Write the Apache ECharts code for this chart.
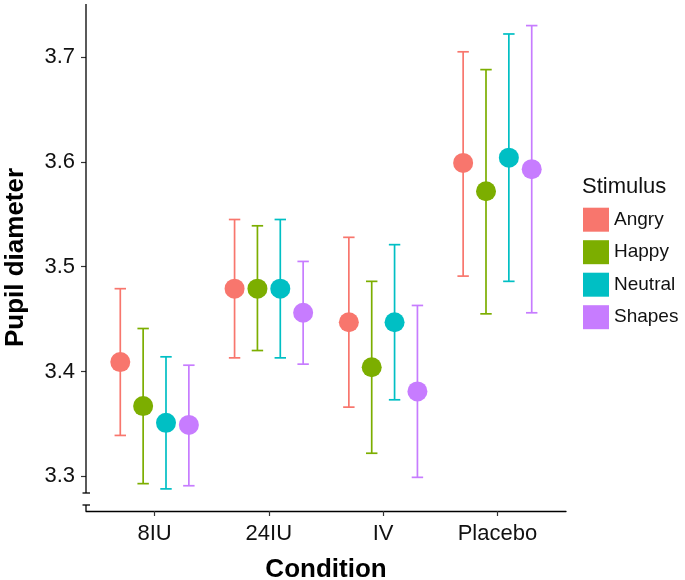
<!DOCTYPE html>
<html>
<head>
<meta charset="utf-8">
<script src="https://cdn.jsdelivr.net/npm/echarts@6/dist/echarts.min.js"></script>
<style>html,body{margin:0;padding:0;background:#fff}#main{width:685px;height:580px}</style>
</head>
<body>
<div id="main"></div>
<script>
const categories = ['8IU', '24IU', 'IV', 'Placebo'];
const stimuli = ['Angry', 'Happy', 'Neutral', 'Shapes'];
const yTicks = [3.3, 3.4, 3.5, 3.6, 3.7];

const angryMean  = [3.409, 3.479, 3.447, 3.599];
const angryLow   = [3.339, 3.413, 3.366, 3.491];
const angryHigh  = [3.479, 3.545, 3.528, 3.705];
const happyMean  = [3.367, 3.479, 3.404, 3.572];
const happyLow   = [3.293, 3.420, 3.322, 3.455];
const happyHigh  = [3.441, 3.539, 3.486, 3.688];
const neutralMean = [3.351, 3.479, 3.447, 3.604];
const neutralLow  = [3.288, 3.413, 3.373, 3.486];
const neutralHigh = [3.414, 3.545, 3.521, 3.722];
const shapesMean = [3.349, 3.456, 3.381, 3.593];
const shapesLow  = [3.291, 3.407, 3.299, 3.456];
const shapesHigh = [3.406, 3.505, 3.463, 3.730];

const means = [angryMean, happyMean, neutralMean, shapesMean];
const lows = [angryLow, happyLow, neutralLow, shapesLow];
const highs = [angryHigh, happyHigh, neutralHigh, shapesHigh];
const colors = ['#F8766D', '#7CAE00', '#00BFC4', '#C77CFF'];

const FONT = "'Liberation Sans', Arial, Helvetica, sans-serif";
const GRID = {left: 86, right: 119, top: 4, bottom: 69, containLabel: false, outerBoundsMode: 'none'};
const dodge = 0.2;

const chart = echarts.init(document.getElementById('main'));
const series = [];
stimuli.forEach((s, i) => {
  const off = (i - 1.5) * dodge;
  series.push({
    type: 'custom', name: s, z: 2, silent: true,
    data: categories.map((c, j) => [j + 1 + off, lows[i][j], highs[i][j]]),
    encode: {x: 0, y: [1, 2]},
    renderItem: function (params, api) {
      const x = api.value(0);
      const lo = api.coord([x, api.value(1)]);
      const hi = api.coord([x, api.value(2)]);
      const hw = api.size([0.1, 0])[0] / 2;
      const st = {stroke: colors[i], lineWidth: 1.7};
      return {type: 'group', children: [
        {type: 'line', shape: {x1: lo[0], y1: lo[1], x2: hi[0], y2: hi[1]}, style: st},
        {type: 'line', shape: {x1: lo[0] - hw, y1: lo[1], x2: lo[0] + hw, y2: lo[1]}, style: st},
        {type: 'line', shape: {x1: hi[0] - hw, y1: hi[1], x2: hi[0] + hw, y2: hi[1]}, style: st}
      ]};
    }
  });
});
stimuli.forEach((s, i) => {
  const off = (i - 1.5) * dodge;
  series.push({
    type: 'scatter', name: s, z: 3, symbol: 'circle', symbolSize: 20,
    itemStyle: {color: colors[i], opacity: 1},
    data: categories.map((c, j) => [j + 1 + off, means[i][j]])
  });
});

chart.setOption({
  animation: false,
  backgroundColor: '#fff',
  color: colors,
  grid: GRID,
  xAxis: {
    type: 'value', min: 0.4, max: 4.6,
    name: 'Condition', nameLocation: 'middle', nameGap: 46,
    nameTextStyle: {fontFamily: FONT, fontSize: 26, fontWeight: 'bold', color: '#000'},
    splitLine: {show: false},
    axisLine: {show: true, lineStyle: {color: '#000', width: 1.3}},
    axisTick: {show: true, length: 5, customValues: [1, 2, 3, 4], lineStyle: {color: '#333', width: 1.2}},
    axisLabel: {customValues: [1, 2, 3, 4], margin: 12, fontFamily: FONT, fontSize: 22, color: '#111',
      formatter: v => categories[Math.round(v) - 1]}
  },
  yAxis: {
    type: 'value', min: 3.2669, max: 3.7506,
    name: 'Pupil diameter', nameLocation: 'middle', nameGap: 57,
    nameTextStyle: {fontFamily: FONT, fontSize: 26, fontWeight: 'bold', color: '#000'},
    splitLine: {show: false},
    axisLine: {show: false},
    axisTick: {show: true, length: 5, customValues: yTicks, lineStyle: {color: '#333', width: 1.2}},
    axisLabel: {customValues: yTicks, margin: 11, fontFamily: FONT, fontSize: 22, color: '#111',
      formatter: v => v.toFixed(1)}
  },
  legend: {
    orient: 'vertical', left: 583, top: 207.7, padding: 0,
    itemWidth: 26, itemHeight: 24, itemGap: 8.5,
    textStyle: {fontFamily: FONT, fontSize: 19, color: '#111'},
    selectedMode: false,
    data: stimuli.map((s, i) => ({name: s, icon: 'rect', itemStyle: {color: colors[i]}}))
  },
  series: series
});

const ax = GRID.left;
const yTop = GRID.top;
const yBot = 580 - GRID.bottom;
const lineStyle = {stroke: '#000', lineWidth: 1.3};
chart.setOption({
  graphic: [
    {type: 'line', shape: {x1: ax, y1: yTop, x2: ax, y2: yBot - 18}, style: lineStyle, z: 10},
    {type: 'line', shape: {x1: ax - 3.5, y1: yBot - 18, x2: ax + 4, y2: yBot - 18}, style: lineStyle, z: 10},
    {type: 'line', shape: {x1: ax - 3.5, y1: yBot - 6, x2: ax + 4, y2: yBot - 6}, style: lineStyle, z: 10},
    {type: 'line', shape: {x1: ax, y1: yBot - 6, x2: ax, y2: yBot}, style: lineStyle, z: 10},
    {type: 'text', left: 582, top: 176, style: {text: 'Stimulus', font: "22px " + FONT, fill: '#111'}}
  ]
});
</script>
</body>
</html>
